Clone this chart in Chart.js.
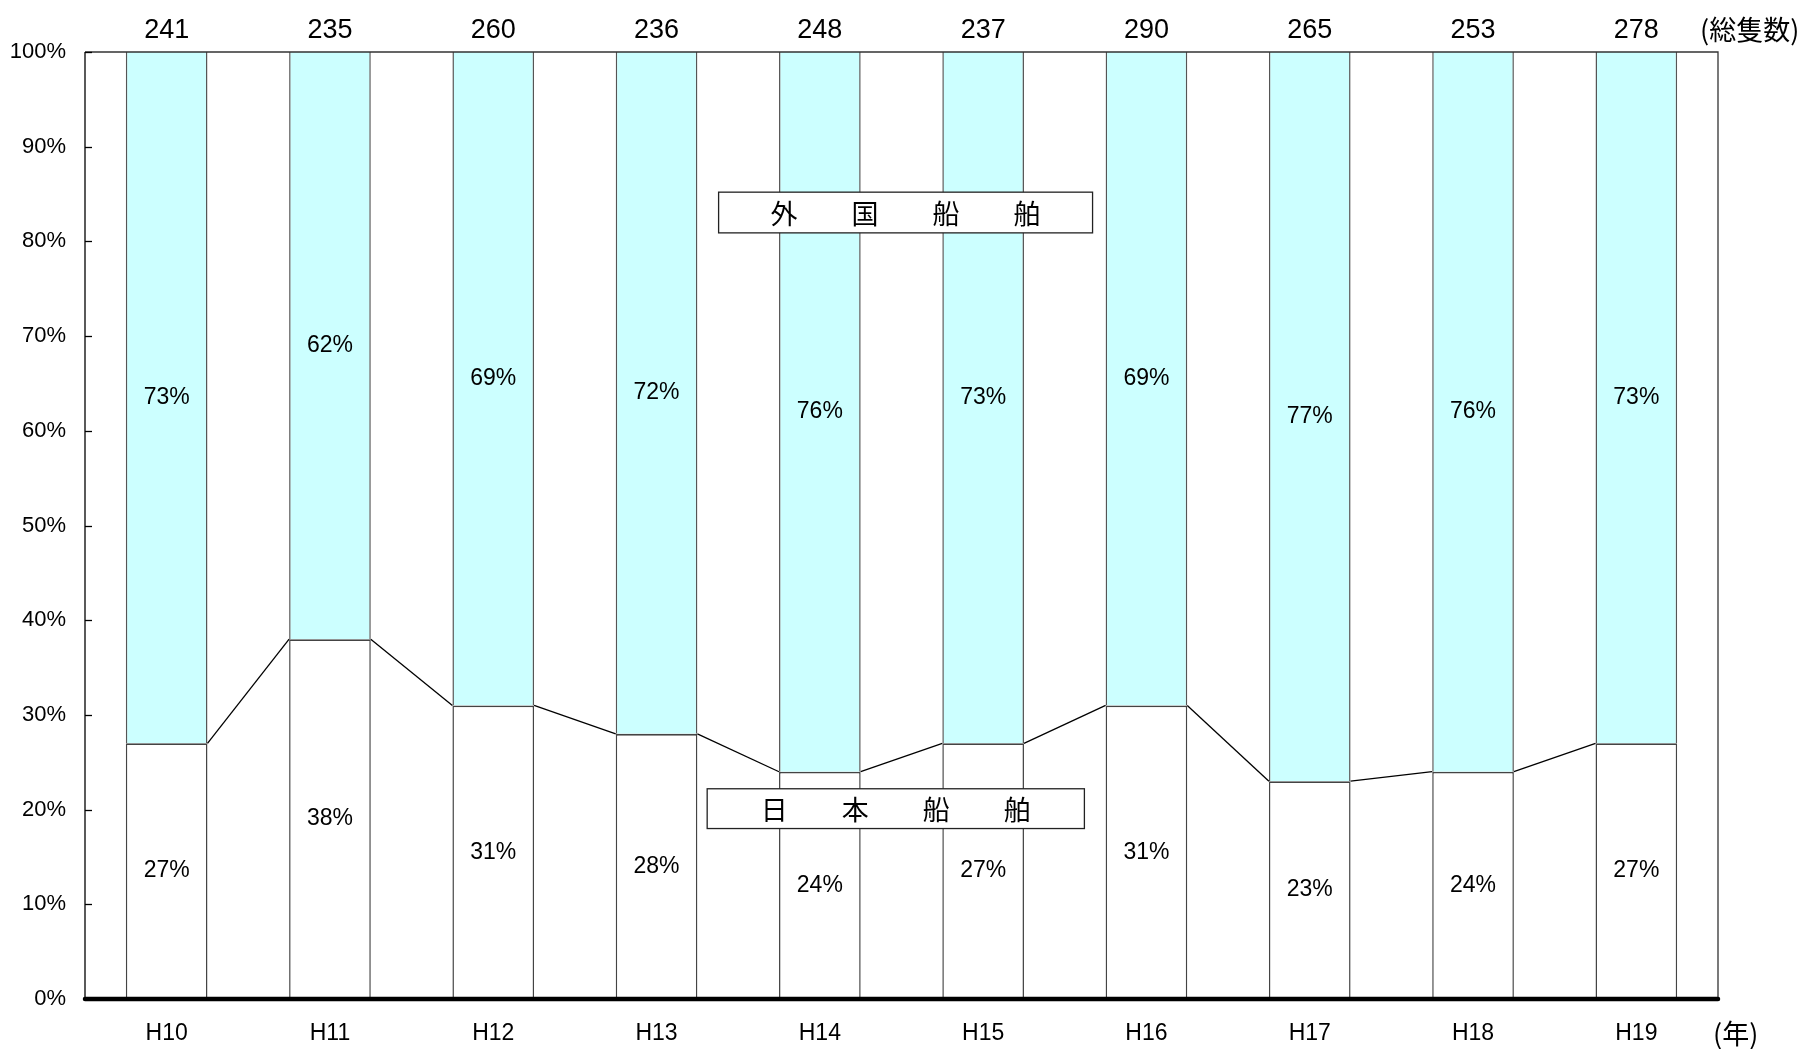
<!DOCTYPE html>
<html>
<head>
<meta charset="utf-8">
<script src="https://cdn.jsdelivr.net/npm/chart.js@4"></script>
<style>
html,body{margin:0;padding:0;background:#fff;}
#wrap{width:1807px;height:1049px;position:relative;}
</style>
</head>
<body>
<div id="wrap"><canvas id="c"></canvas></div>
<script>
// ---- data ----
const categories = ['H10','H11','H12','H13','H14','H15','H16','H17','H18','H19'];
const japanPct   = [27, 38, 31, 28, 24, 27, 31, 23, 24, 27];
const foreignPct = [73, 62, 69, 72, 76, 73, 69, 77, 76, 73];
const totals     = [241, 235, 260, 236, 248, 237, 290, 265, 253, 278];
const yTicks     = [0,10,20,30,40,50,60,70,80,90,100];
const seriesNames = ['日　　本　　船　　舶', '外　　国　　船　　舶'];
const totalUnit = '(総隻数)';
const xUnit = '(年)';

// annotation boxes (in scale units: category index / percent)
const boxes = [
  {text: seriesNames[1], x0: 3.38, x1: 5.67, y0: 85.2, y1: 80.9},
  {text: seriesNames[0], x0: 3.31, x1: 5.62, y0: 22.2, y1: 18.0}
];

const latin = '"Liberation Sans", Arial, sans-serif';
const cjk = '"Noto Sans CJK JP", sans-serif';

const overlay = {
  id: 'overlay',
  afterDatasetsDraw(chart) {
    const ctx = chart.ctx;
    const ca = chart.chartArea;
    const xs = chart.scales.x, ys = chart.scales.y;
    const mJ = chart.getDatasetMeta(0);
    ctx.save();
    // connector lines between japan segment tops
    ctx.strokeStyle = '#000';
    ctx.lineWidth = 1.3;
    for (let i = 0; i < categories.length - 1; i++) {
      const a = mJ.data[i], b = mJ.data[i+1];
      ctx.beginPath();
      ctx.moveTo(a.x + a.width/2, ys.getPixelForValue(japanPct[i]));
      ctx.lineTo(b.x - b.width/2, ys.getPixelForValue(japanPct[i+1]));
      ctx.stroke();
    }
    // percent labels
    ctx.fillStyle = '#000';
    ctx.font = '23px ' + latin;
    ctx.textAlign = 'center';
    ctx.textBaseline = 'middle';
    for (let i = 0; i < categories.length; i++) {
      const x = mJ.data[i].x;
      ctx.fillText(japanPct[i] + '%', x, ys.getPixelForValue(japanPct[i]/2));
      ctx.fillText(foreignPct[i] + '%', x, ys.getPixelForValue(japanPct[i] + foreignPct[i]/2));
    }
    // totals on top
    ctx.font = '27px ' + latin;
    for (let i = 0; i < categories.length; i++) {
      ctx.fillText(String(totals[i]), mJ.data[i].x, ca.top - 21);
    }
    ctx.font = '27px ' + cjk;
    ctx.textAlign = 'left';
    ctx.fillText(totalUnit, ca.right - 18, ca.top - 22);
    ctx.fillText(xUnit, ca.right - 5, ca.bottom + 35);
    // frame
    ctx.strokeStyle = '#333';
    ctx.lineWidth = 1.3;
    ctx.beginPath();
    ctx.moveTo(ca.left, ca.top); ctx.lineTo(ca.right, ca.top); ctx.lineTo(ca.right, ca.bottom);
    ctx.stroke();
    ctx.strokeStyle = '#000';
    ctx.beginPath();
    ctx.moveTo(ca.left, ca.top); ctx.lineTo(ca.left, ca.bottom);
    ctx.stroke();
    // inward y ticks
    ys.ticks.forEach(t => {
      const y = Math.round(ys.getPixelForValue(t.value)) + 0.5;
      ctx.beginPath(); ctx.moveTo(ca.left, y); ctx.lineTo(ca.left + 7, y); ctx.stroke();
    });
    // thick x axis
    ctx.lineWidth = 4.5;
    ctx.lineCap = 'round';
    ctx.beginPath();
    ctx.moveTo(ca.left, ca.bottom); ctx.lineTo(ca.right, ca.bottom);
    ctx.stroke();
    ctx.lineCap = 'butt';
    // annotation boxes
    boxes.forEach(b => {
      const x0 = xs.getPixelForValue(b.x0), x1 = xs.getPixelForValue(b.x1);
      const y0 = ys.getPixelForValue(b.y0), y1 = ys.getPixelForValue(b.y1);
      ctx.fillStyle = '#fff';
      ctx.fillRect(x0, y0, x1 - x0, y1 - y0);
      ctx.strokeStyle = '#222';
      ctx.lineWidth = 1.3;
      ctx.strokeRect(x0, y0, x1 - x0, y1 - y0);
      ctx.fillStyle = '#000';
      ctx.font = '27px ' + cjk;
      ctx.textAlign = 'center';
      ctx.textBaseline = 'middle';
      ctx.fillText(b.text, (x0 + x1)/2, (y0 + y1)/2 + 1);
    });
    ctx.restore();
  }
};

new Chart(document.getElementById('c'), {
  type: 'bar',
  data: {
    labels: categories,
    datasets: [
      {
        label: seriesNames[0],
        data: japanPct,
        backgroundColor: '#ffffff',
        borderColor: '#444',
        borderWidth: {left: 1.5, right: 1.5, top: 1.8, bottom: 0},
        borderSkipped: false,
        barPercentage: 0.5,
        categoryPercentage: 1.0
      },
      {
        label: seriesNames[1],
        data: foreignPct,
        backgroundColor: '#ccffff',
        borderColor: '#555',
        borderWidth: {left: 1.5, right: 1.5, top: 0, bottom: 0},
        borderSkipped: false,
        barPercentage: 0.5,
        categoryPercentage: 1.0
      }
    ]
  },
  options: {
    responsive: true,
    maintainAspectRatio: false,
    animation: false,
    layout: {padding: {top: 52, right: 89, left: 0, bottom: 0}},
    plugins: {legend: {display: false}, tooltip: {enabled: false}},
    scales: {
      x: {
        stacked: true,
        grid: {display: false, drawTicks: false},
        border: {display: false},
        ticks: {color: '#000', font: {family: latin, size: 23}, padding: 21, maxRotation: 0},
        afterFit(s) { s.height = 50; }
      },
      y: {
        stacked: true,
        min: 0, max: 100,
        afterBuildTicks(s) { s.ticks = yTicks.map(v => ({value: v})); },
        grid: {display: false, drawTicks: false},
        border: {display: false},
        ticks: {color: '#000', font: {family: latin, size: 22}, padding: 19, callback: v => v + '%'},
        afterFit(s) { s.width = 85; }
      }
    }
  },
  plugins: [overlay]
});
</script>
</body>
</html>
